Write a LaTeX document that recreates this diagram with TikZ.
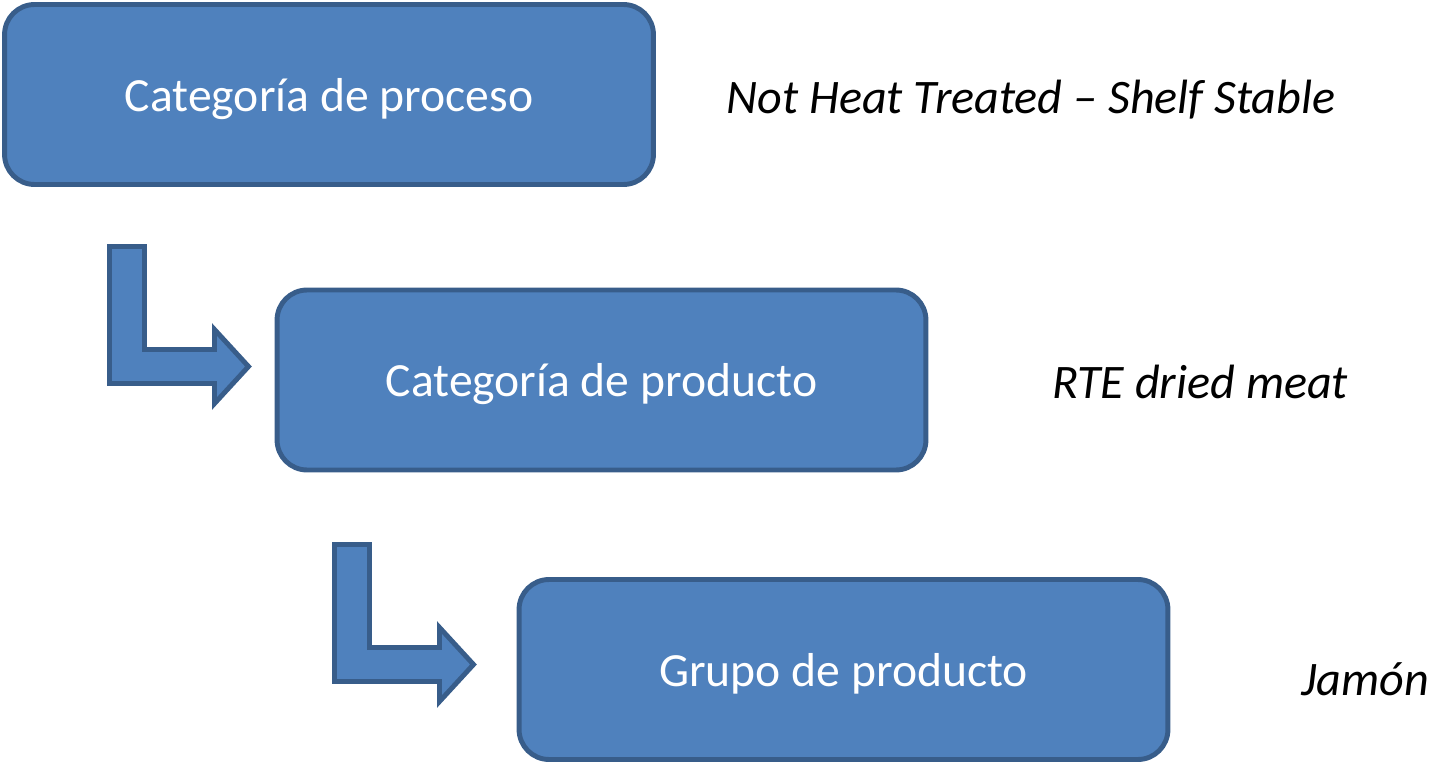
\documentclass[tikz,border=0pt]{standalone}
\usepackage{fontspec}
\setmainfont{Carlito}
\usepackage{tikz}

\definecolor{boxfill}{HTML}{4F81BD}
\definecolor{boxline}{HTML}{385D8A}

\tikzset{
  catbox/.style={draw=boxline, fill=boxfill, line width=2.8pt, rounded corners=0.6cm,
    minimum width=12.98cm, minimum height=3.6cm, text depth=0pt, text=white,
    font=\fontsize{27.1}{32}\selectfont},
  example/.style={anchor=west, inner sep=0pt, font=\fontsize{27.4}{32}\selectfont\itshape}
}

\begin{document}
\begin{tikzpicture}[x=0.02cm, y=-0.02cm]
                \useasboundingbox (0,0) rectangle (1431,764);

                % Category boxes
                \node[catbox] (proceso) at (329,94.5) {Categoría de proceso};
                \node[catbox] (producto) at (601.5,380) {Categoría de producto};
                \node[catbox] (grupo) at (843.5,669.5) {Grupo de producto};

                % Bent arrows
                \foreach \dx/\dy in {0/0, 225/298}
                  \draw[boxline, fill=boxfill, line width=2.8pt, shift={(\dx*0.02cm,-\dy*0.02cm)}]
                    (109.5,246.5) -- (144.5,246.5) -- (144.5,349.5) -- (214.5,349.5)
                    -- (214.5,329.5) -- (248.5,366.5) -- (214.5,403.5) -- (214.5,383.5)
                    -- (109.5,383.5) -- cycle;

                % Examples
                \node[example] (procesoEj) at (726,100) {Not Heat Treated – Shelf Stable};
                \node[example] (productoEj) at (1052,382) {RTE dried meat};
                \node[example] (grupoEj) at (1301,679) {Jamón};
            \end{tikzpicture}
\end{document}
